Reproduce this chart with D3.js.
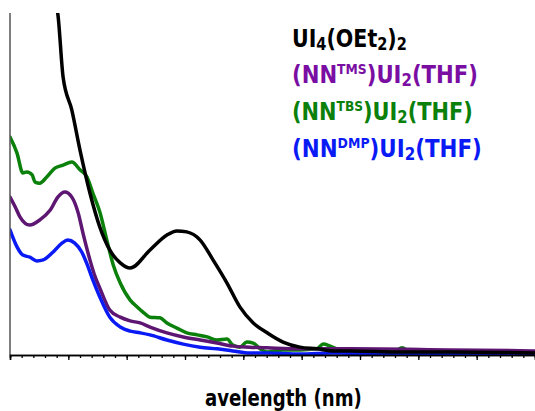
<!DOCTYPE html>
<html><head><meta charset="utf-8">
<script src="https://cdn.jsdelivr.net/npm/d3@7/dist/d3.min.js"></script>
<style>body{margin:0;background:#fff}svg{display:block}</style>
</head><body>
<svg id="c" width="535" height="411"></svg>
<script>
// wavelength (nm) / absorbance (a.u.)
const ui4Wl = [377,382,391,406,420,437,454,471,489,506,540,569,586,603,626,648,672,694,717,741,768,797,826,854,883,969,1054,1200];
const ui4Ab = [1.04,1.00,0.815,0.718,0.601,0.475,0.375,0.308,0.270,0.255,0.308,0.352,0.364,0.361,0.337,0.279,0.211,0.141,0.094,0.065,0.038,0.023,0.018,0.012,0.012,0.009,0.009,0.006];

const tbsWl = [300,312,322,329,338,343,351,363,377,391,406,420,432,442,454,466,477,489,506,518,528,540,557,569,586,603,621,638,655,672,682,694,706,717,729,741,768,797,826,837,849,866,917,960,972,986,1034,1097,1140,1171,1200];
const tbsAb = [0.639,0.592,0.534,0.537,0.528,0.507,0.504,0.522,0.548,0.557,0.566,0.543,0.522,0.475,0.419,0.337,0.264,0.211,0.161,0.141,0.126,0.111,0.109,0.094,0.079,0.065,0.059,0.053,0.044,0.047,0.029,0.023,0.038,0.035,0.018,0.009,0.015,0.015,0.018,0.032,0.026,0.015,0.009,0.012,0.021,0.009,0.012,0.012,0.006,0.009,0.006];

const tmsWl = [300,309,317,334,351,369,382,394,406,417,425,437,446,454,471,489,506,523,540,569,597,626,655,682,711,741,797,854,883,1054,1200];
const tmsAb = [0.463,0.434,0.405,0.381,0.396,0.425,0.463,0.478,0.463,0.416,0.358,0.279,0.229,0.196,0.132,0.111,0.100,0.094,0.082,0.065,0.053,0.044,0.035,0.026,0.023,0.021,0.018,0.018,0.018,0.015,0.012];

const dmpWl = [300,312,322,334,346,357,374,389,399,411,423,434,442,454,471,489,506,523,540,569,597,626,655,682,711,741,797,854,969,1200];
const dmpAb = [0.367,0.317,0.293,0.287,0.276,0.279,0.302,0.328,0.337,0.328,0.302,0.258,0.220,0.170,0.111,0.082,0.070,0.065,0.059,0.044,0.032,0.023,0.018,0.012,0.006,0.006,0.003,0.006,0.003,0.003];

const majorTicks = [300,400,500,600,700,800,900,1000,1100,1200];
const minorTicks = d3.range(300,1201,20);
const xLabel = "avelength (nm)";

const series = [
  {wl: ui4Wl, ab: ui4Ab, color: "#000000"},
  {wl: tbsWl, ab: tbsAb, color: "#0b800b"},
  {wl: tmsWl, ab: tmsAb, color: "#5e1673"},
  {wl: dmpWl, ab: dmpAb, color: "#0a1af5"}
];

const svg = d3.select("#c");
const x = d3.scaleLinear().domain([300,1200]).range([10,535]);
const y = d3.scaleLinear().domain([0,1]).range([355,14]);

svg.append("clipPath").attr("id","clip").append("rect")
  .attr("x",10).attr("y",13).attr("width",525).attr("height",342);

const line = d3.line().curve(d3.curveMonotoneX);
const g = svg.append("g").attr("clip-path","url(#clip)");
[series[1], series[2], series[3], series[0]].forEach(s => {
  g.append("path")
    .attr("d", line(s.wl.map((w,i)=>[x(w), y(s.ab[i])])))
    .attr("fill","none").attr("stroke",s.color).attr("stroke-width",3.5)
    .attr("stroke-linejoin","round").attr("stroke-linecap","round");
});

// axes
svg.append("line").attr("x1",10).attr("x2",10).attr("y1",13).attr("y2",355)
  .attr("stroke","#555").attr("stroke-width",1.5);
const axMinor = svg.append("g").attr("transform","translate(0,355)")
  .call(d3.axisBottom(x).tickValues(minorTicks).tickSize(3).tickFormat(""));
const axMajor = svg.append("g").attr("transform","translate(0,355)")
  .call(d3.axisBottom(x).tickValues(majorTicks).tickSize(5).tickFormat(""));
[axMinor, axMajor].forEach(a => {
  a.select(".domain").attr("stroke","#000").attr("stroke-width",1.5);
  a.selectAll(".tick line").attr("stroke","#000").attr("stroke-width",1.3);
});

const font = "'DejaVu Sans Condensed','DejaVu Sans',sans-serif";

function fitWidth(sel, x0, y0, w) {
  const n = sel.node().getComputedTextLength();
  const k = w / n;
  sel.attr("x",0).attr("y",0)
     .attr("transform",`translate(${x0},${y0}) scale(${k},1)`);
}

const xl = svg.append("text")
  .attr("font-family",font).attr("font-weight","bold").attr("font-size",23)
  .text(xLabel);
fitWidth(xl, 205, 406, 157);

// legend
const legend = [
  {parts:[["UI",0],["4",1],["(OEt",0],["2",1],[")",0],["2",1]], color:"#000000", y:47, w:115},
  {parts:[["(NN",0],["TMS",2],[")UI",0],["2",1],["(THF)",0]], color:"#7a0ea3", y:83, w:186},
  {parts:[["(NN",0],["TBS",2],[")UI",0],["2",1],["(THF)",0]], color:"#0b800b", y:120, w:181},
  {parts:[["(NN",0],["DMP",2],[")UI",0],["2",1],["(THF)",0]], color:"#0a1af5", y:157, w:190}
];
legend.forEach(L => {
  const t = svg.append("text")
    .attr("font-family",font).attr("font-weight","bold").attr("font-size",24)
    .attr("fill",L.color);
  let prev = 0;
  L.parts.forEach(([s,k]) => {
    const sp = t.append("tspan").text(s);
    const shift = k===1 ? 3 : (k===2 ? -9 : 0);
    sp.attr("dy", shift - prev);
    prev = shift;
    if (k===1) sp.attr("font-size",17);
    if (k===2) sp.attr("font-size",14);
  });
  fitWidth(t, 292, L.y, L.w);
});
</script>
</body></html>
